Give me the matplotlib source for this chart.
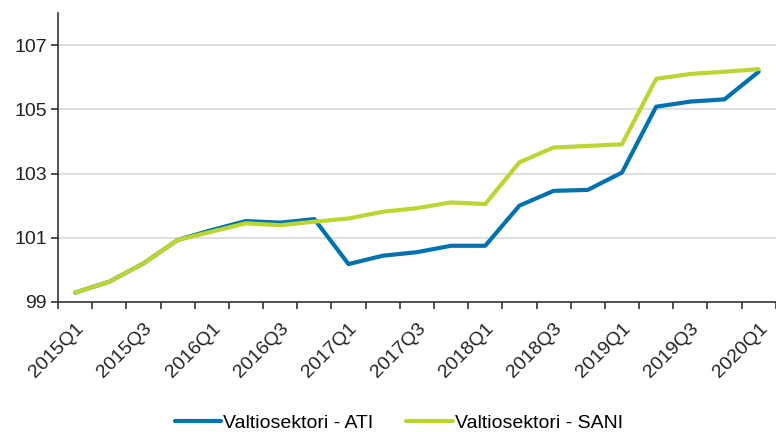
import numpy as np
import matplotlib.pyplot as plt

plt.rcParams['font.family'] = ['Liberation Sans', 'DejaVu Sans']

quarters = [f"{y}Q{q}" for y in range(2015, 2021) for q in range(1, 5)][:21]
ati = [99.29, 99.63, 100.2, 100.93, 101.24, 101.52, 101.47, 101.58, 100.18, 100.44,
       100.55, 100.75, 100.75, 102.0, 102.46, 102.49, 103.03, 105.08, 105.24, 105.31, 106.17]
sani = [99.29, 99.63, 100.2, 100.93, 101.19, 101.45, 101.39, 101.5, 101.6, 101.81,
        101.92, 102.1, 102.05, 103.35, 103.81, 103.86, 103.91, 105.95, 106.1, 106.17, 106.25]
yticks = [99, 101, 103, 105, 107]

fig = plt.figure(figsize=(7.76, 4.32), dpi=100)
ax = fig.add_axes([0.0747, 0.301, 0.925, 0.669])

x = np.arange(len(quarters))
ax.plot(x, ati, color='#0072b1', lw=3.0, label='Valtiosektori - ATI', solid_capstyle='round')
ax.plot(x, sani, color='#bcd631', lw=3.0, label='Valtiosektori - SANI', solid_capstyle='round')

ax.set_xlim(-0.5, len(quarters) - 0.5)
ax.set_ylim(99, 108)
ax.set_yticks(yticks)
ax.set_yticklabels([str(v) for v in yticks], fontsize=14, color='#222222')
for v in yticks[1:]:
    ax.axhline(v, color='#d9d9d9', lw=1.2, zorder=0)

# tick marks on category boundaries, labels on every second category
ax.set_xticks(np.arange(-0.5, len(quarters)))
ax.set_xticklabels([])
ax.set_xticks(x[::2], minor=True)
ax.set_xticklabels(quarters[::2], minor=True, rotation=45, ha='right',
                   rotation_mode='anchor', fontsize=14, color='#222222')
ax.tick_params(axis='x', which='major', length=5, width=1.2, color='#333333', direction='out')
ax.tick_params(axis='x', which='minor', length=0, pad=13)
ax.tick_params(axis='y', length=5, width=1.2, color='#333333', pad=3)

for s in ['top', 'right']:
    ax.spines[s].set_visible(False)
for s in ['left', 'bottom']:
    ax.spines[s].set_color('#333333')
    ax.spines[s].set_linewidth(1.2)

fig.legend(loc='lower center', bbox_to_anchor=(0.514, -0.04), ncol=2, frameon=False,
           fontsize=14, handlelength=2.4, handletextpad=0.1, columnspacing=1.7)

fig.savefig('out.png', dpi=100)
